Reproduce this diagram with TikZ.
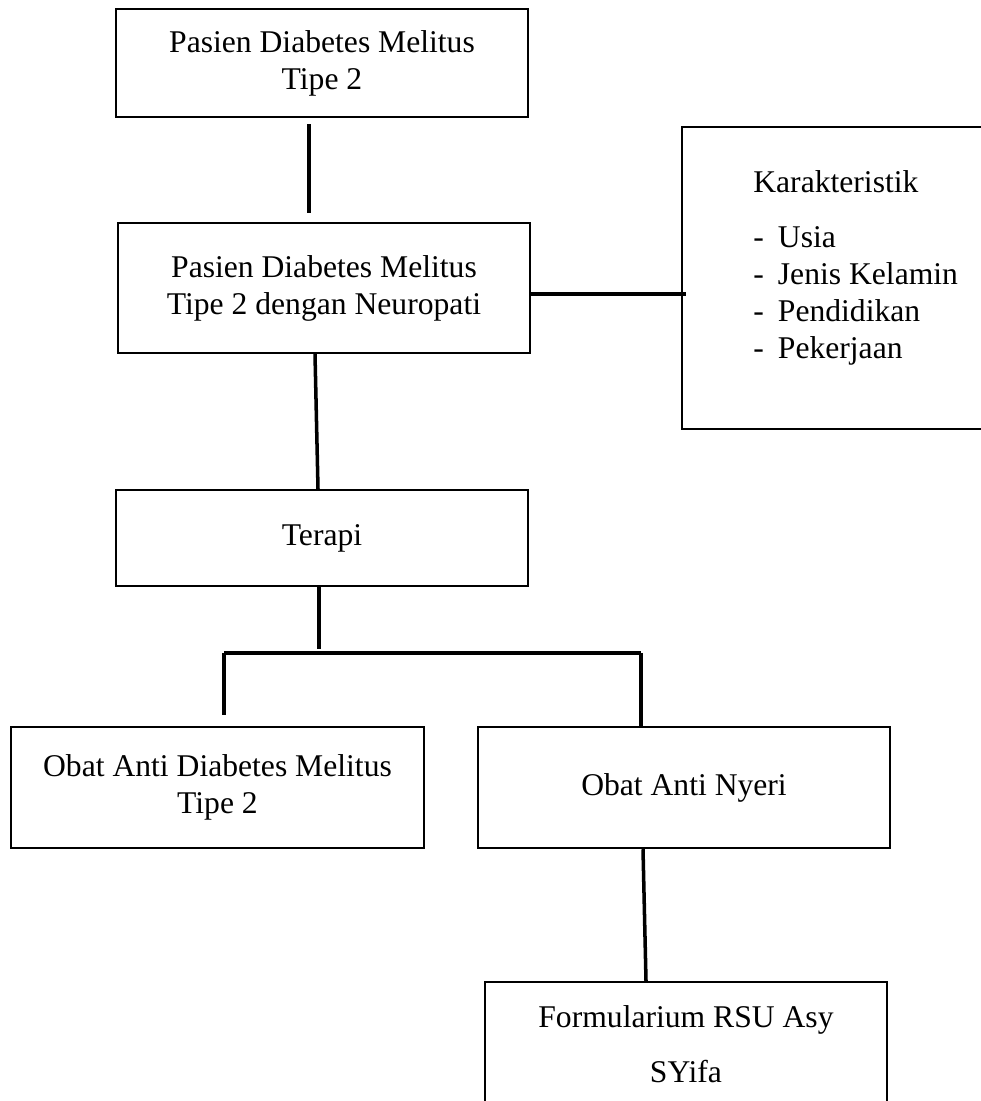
\documentclass[tikz,border=0pt]{standalone}
\usepackage{fontspec}
\setmainfont{Liberation Serif}
\usetikzlibrary{positioning,calc}
\newcommand{\itm}[1]{\makebox[14pt][l]{-}#1}

\begin{document}
\begin{tikzpicture}[x=0.02cm, y=-0.02cm,
    box/.style={draw,line width=1.4pt,align=center,font=\fontsize{18}{21}\selectfont,
                minimum width=8.24cm,minimum height=#1},
    link/.style={line width=2pt}]
  \useasboundingbox (0,0) rectangle (980,1101);
  \node[box=2.16cm] (pasien)    at (322,63)     {Pasien Diabetes Melitus\\Tipe 2};
  \node[box=2.6cm]  (neuro)     at (324,288)    {Pasien Diabetes Melitus\\Tipe 2 dengan Neuropati};
  \node[box=6.04cm,minimum width=6.94cm] (karakter) at (855.5,278) {};
  \node[align=left,inner sep=0pt,anchor=north west,font=\fontsize{18}{21}\selectfont]
       (ciri) at (753,170) {Karakteristik\\[10.7pt]\itm{Usia}\\\itm{Jenis Kelamin}\\\itm{Pendidikan}\\\itm{Pekerjaan}};
  \node[box=1.92cm] (terapi)    at (322,538)    {Terapi};
  \node[box=2.42cm,minimum width=8.26cm] (obatdm) at (217.5,787.5) {Obat Anti Diabetes Melitus\\Tipe 2};
  \node[box=2.42cm] (obatnyeri) at (684,787.5)  {Obat Anti Nyeri};
  \node[box=2.48cm,minimum width=8.04cm] (formular) at (686,1044) {Formularium RSU Asy\\[10.2pt]SYifa};
  % connectors
  \draw[link] ($(pasien.south)+(-13,6)$) -- ($(neuro.north)+(-15,-9)$);
  \draw[link] ($(neuro.east)+(0,6)$) -- ($(karakter.west)+(5,16)$);
  \draw[link] ($(neuro.south)+(-9,0)$) -- ($(terapi.north)+(-4,0)$);
  \coordinate (split) at (319,649);
  \coordinate (barL)  at (224,653);
  \coordinate (barR)  at (641,653);
  \draw[link] (terapi.south -| split) -- (split);
  \draw[link] (barL) -- (barR);
  \draw[link] (barL) -- ($(barL |- obatdm.north)+(0,-11)$);
  \draw[link] (barR) -- (barR |- obatnyeri.north);
  \draw[link] ($(obatnyeri.south)+(-41,0)$) -- ($(formular.north)+(-40,0)$);
\end{tikzpicture}
\end{document}
